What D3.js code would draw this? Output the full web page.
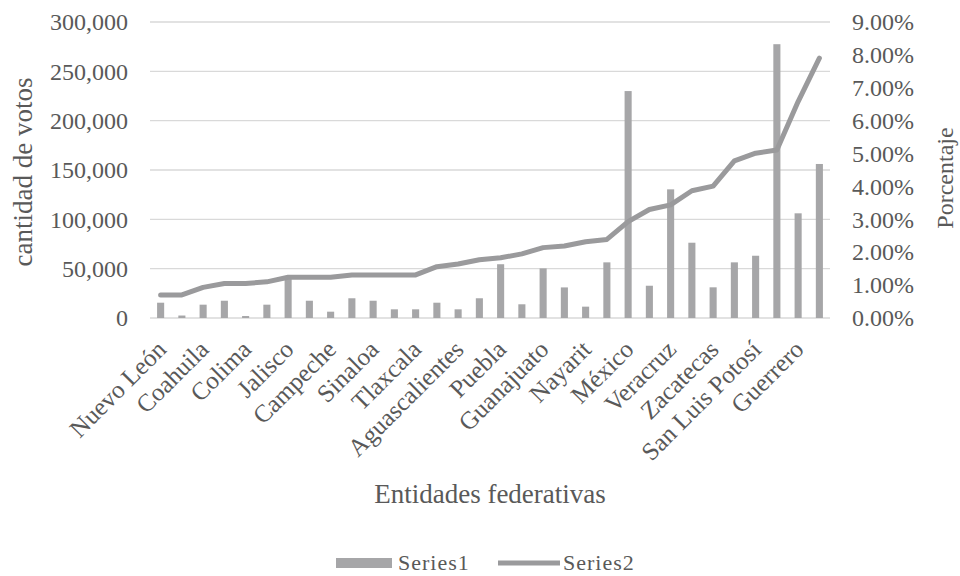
<!DOCTYPE html>
<html>
<head>
<meta charset="utf-8">
<script src="https://cdn.jsdelivr.net/npm/d3@7"></script>
<style>
  html, body { margin: 0; padding: 0; background: #fff; }
  svg { display: block; }
  text { font-family: "Liberation Serif", "Times New Roman", serif; fill: #595959; }
</style>
</head>
<body>
<svg id="chart" width="960" height="576"></svg>
<script>
const categories = ["Nuevo León","Baja California Sur","Coahuila","Sonora","Colima","Querétaro","Jalisco","Chihuahua","Campeche","Tamaulipas","Sinaloa","Baja California","Tlaxcala","Yucatán","Aguascalientes","Durango","Puebla","Quintana Roo","Guanajuato","Hidalgo","Nayarit","Tabasco","México","Morelos","Veracruz","Michoacán","Zacatecas","Chiapas","San Luis Potosí","Ciudad de México","Guerrero","Oaxaca"];
const series1 = [15500,2500,13500,17500,2000,13500,42000,17500,6400,20000,17500,8800,8800,15500,8800,20000,54500,13900,50300,31000,11500,56400,230000,32700,130400,76300,31100,56400,63100,277500,106100,156100];
const series2 = [0.70,0.70,0.93,1.05,1.05,1.10,1.24,1.24,1.24,1.31,1.31,1.31,1.31,1.56,1.64,1.77,1.83,1.95,2.14,2.19,2.32,2.39,2.93,3.30,3.44,3.87,4.01,4.78,5.01,5.11,6.58,7.90];
const leftTicks = [0,50000,100000,150000,200000,250000,300000];
const rightTicks = [0,1,2,3,4,5,6,7,8,9];
const shownLabels = categories.filter((d, i) => i % 2 === 0);

const svg = d3.select("#chart");
const pLeft = 150, pRight = 830, pTop = 22, pBottom = 318;

const x = d3.scaleBand().domain(categories).range([pLeft, pRight]).paddingInner(2/3).paddingOuter(1/3);
const yL = d3.scaleLinear().domain([0, 300000]).range([pBottom, pTop]);
const yR = d3.scaleLinear().domain([0, 9]).range([pBottom, pTop]);

// gridlines
svg.append("g").selectAll("line").data(leftTicks).join("line")
  .attr("x1", pLeft).attr("x2", pRight)
  .attr("y1", d => yL(d)).attr("y2", d => yL(d))
  .attr("stroke", "#d9d9d9").attr("stroke-width", 1.3);

// left axis
const axL = svg.append("g").attr("transform", `translate(${pLeft},0)`)
  .call(d3.axisLeft(yL).tickValues(leftTicks).tickSize(0).tickPadding(22).tickFormat(d3.format(",")));
axL.select(".domain").remove();
axL.selectAll("text").attr("font-size", 24).style("font-family", "Liberation Serif").attr("fill", "#595959");

// right axis
const axR = svg.append("g").attr("transform", `translate(${pRight},0)`)
  .call(d3.axisRight(yR).tickValues(rightTicks).tickSize(0).tickPadding(22).tickFormat(d => d.toFixed(2) + "%"));
axR.select(".domain").remove();
axR.selectAll("text").attr("font-size", 24).style("font-family", "Liberation Serif").attr("fill", "#595959");

// bars
svg.append("g").selectAll("rect").data(categories).join("rect")
  .attr("x", d => x(d)).attr("width", x.bandwidth())
  .attr("y", (d, i) => yL(series1[i]))
  .attr("height", (d, i) => pBottom - yL(series1[i]))
  .attr("fill", "#a6a6a8");

// line
const line = d3.line().x((d, i) => x(categories[i]) + x.bandwidth() / 2).y(d => yR(d));
svg.append("path").datum(series2).attr("d", line)
  .attr("fill", "none").attr("stroke", "#9a9a9c").attr("stroke-width", 5)
  .attr("stroke-linejoin", "round").attr("stroke-linecap", "round");

// x axis labels
const axX = svg.append("g").attr("transform", `translate(0,${pBottom})`)
  .call(d3.axisBottom(x).tickValues(shownLabels).tickSize(0).tickPadding(0));
axX.select(".domain").remove();
axX.selectAll("text")
  .attr("font-size", 25).style("font-family", "Liberation Serif").attr("fill", "#595959")
  .attr("text-anchor", "end")
  .attr("dy", 0).attr("y", 0)
  .attr("transform", "translate(7,33) rotate(-45)");

// axis titles
svg.append("text").attr("x", 490).attr("y", 503).attr("text-anchor", "middle")
  .attr("font-size", 27).text("Entidades federativas");
svg.append("text").attr("transform", "translate(32,172) rotate(-90)").attr("text-anchor", "middle")
  .attr("font-size", 27).text("cantidad de votos");
svg.append("text").attr("transform", "translate(953,178) rotate(-90)").attr("text-anchor", "middle")
  .attr("font-size", 24).text("Porcentaje");

// legend
const lg = svg.append("g");
lg.append("rect").attr("x", 336).attr("y", 558).attr("width", 56).attr("height", 10).attr("fill", "#a6a6a8");
lg.append("text").attr("x", 398).attr("y", 570).attr("font-size", 22).attr("letter-spacing", 1).text("Series1");
lg.append("line").attr("x1", 498).attr("x2", 560).attr("y1", 563).attr("y2", 563)
  .attr("stroke", "#9a9a9c").attr("stroke-width", 5);
lg.append("text").attr("x", 563).attr("y", 570).attr("font-size", 22).attr("letter-spacing", 1).text("Series2");
</script>
</body>
</html>
